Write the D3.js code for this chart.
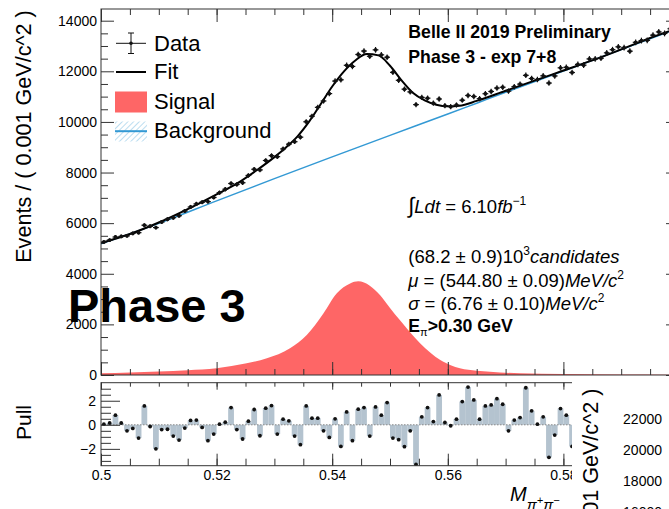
<!DOCTYPE html>
<html>
<head>
<meta charset="utf-8">
<script src="https://cdn.jsdelivr.net/npm/d3@7"></script>
<style>
  html, body { margin: 0; padding: 0; background: #fff; overflow: hidden; }
  svg { display: block; font-family: "Liberation Sans", Arial, Helvetica, sans-serif; }
</style>
</head>
<body>
<svg id="chart" width="669" height="509"></svg>
<script>
/* jshint esversion:6 */

// histogram: 100 bins of 1 MeV from 0.5 to 0.6 GeV
const histLow = 0.5;
const binWidth = 0.001;

const events = [
  5255, 5333, 5452, 5475, 5498, 5595, 5625, 5919, 5879, 5826,
  6046, 6154, 6214, 6293, 6480, 6639, 6760, 6827, 6853, 7015,
  7204, 7340, 7566, 7529, 7598, 7884, 8129, 8104, 8476, 8668,
  8628, 8934, 9121, 9219, 9399, 10006, 10225, 10576, 10828, 11119,
  11614, 11664, 12238, 12193, 12665, 12801, 12594, 12848, 12650, 12556,
  11959, 11645, 11295, 11187, 10684, 10969, 10939, 10738, 10906, 10640,
  10602, 10668, 10859, 11045, 11005, 10919, 11114, 11203, 11339, 11371,
  11217, 11392, 11494, 11840, 11715, 11675, 11822, 11536, 11817, 12138,
  12158, 11952, 12274, 12243, 12490, 12492, 12516, 12730, 12854, 12967,
  12933, 12795, 13147, 13214, 13224, 13429, 13556, 13497, 13682, 13715
];

const pulls = [
  0.05, 0.15, 0.8, 0.15, -0.5, -0.3, -1.1, 1.57, -0.14, -2.0,
  -0.4, -0.37, -0.94, -1.27, -0.27, 0.36, 0.39, -0.22, -1.32, -0.77,
  0.05, 0.22, 1.43, -0.4, -1.18, 0.3, 1.27, -0.91, 1.38, 1.6,
  -0.77, 0.47, 0.33, -0.94, -1.65, 1.57, 0.55, 0.55, -0.5, -1.05,
  0.5, -1.8, 1.07, -1.32, 1.3, 1.43, -0.94, 1.49, 0.8, 1.85,
  -1.1, -1.24, -1.82, -0.5, -3.3, 0.66, 1.43, 0.27, 2.48, 0.19,
  -0.08, 0.47, 1.93, 3.14, 2.07, 0.47, 1.57, 1.65, 2.17, 1.71,
  -0.5, 0.39, 0.6, 3.08, 1.16, 0.05, 0.66, -2.7, -0.85, 1.35,
  0.8, -1.8, 0.4, -0.6, 0.9, 0.2, -0.3, 0.8, 1.1, 1.3,
  0.2, -1.8, 0.5, 0.3, -0.4, 0.6, 1.0, -0.2, 0.7, 0.3
];

const fitMass = [0.500, 0.505, 0.510, 0.515, 0.520, 0.524, 0.527, 0.530, 0.532, 0.534,
  0.536, 0.538, 0.540, 0.542, 0.544, 0.546, 0.548, 0.550, 0.552, 0.554,
  0.556, 0.558, 0.560, 0.562, 0.565, 0.570, 0.575, 0.580, 0.585, 0.590, 0.595, 0.600];
const fitEvents = [5215, 5571, 6025, 6555, 7140, 7633, 8100, 8610, 8990, 9430,
  10010, 10700, 11400, 11990, 12430, 12680, 12630, 12220, 11640, 11140,
  10850, 10680, 10615, 10640, 10830, 11230, 11630, 12030, 12430, 12865, 13315, 13720];

const bkgMass = [0.500, 0.510, 0.520, 0.530, 0.540, 0.550, 0.560, 0.565, 0.570, 0.580, 0.590, 0.600];
const bkgEvents = [5180, 5990, 6880, 7760, 8620, 9470, 10310, 10740, 11170, 12010, 12855, 13718];

const sigMass = [0.500, 0.505, 0.510, 0.515, 0.520, 0.5252, 0.5287, 0.5327, 0.5356, 0.5385,
  0.5408, 0.5431, 0.5445, 0.5465, 0.5483, 0.5500, 0.5517, 0.5535, 0.5552, 0.5570,
  0.5587, 0.5605, 0.5621, 0.5650, 0.5673, 0.5725, 0.580, 0.590, 0.600];
const sigEvents = [65, 95, 135, 190, 265, 460, 660, 1055, 1580, 2440,
  3230, 3620, 3700, 3530, 3150, 2650, 2170, 1680, 1250, 880,
  590, 390, 263, 170, 130, 67, 35, 15, 8];

const yTicks = [0, 2000, 4000, 6000, 8000, 10000, 12000, 14000];
const xTicks = [0.50, 0.52, 0.54, 0.56, 0.58, 0.60];
const pullTicks = [-2, 0, 2];
const insetTicks = [22000, 20000, 18000, 16000];
const legendItems = ["Data", "Fit", "Signal", "Background"];

const styles = {
  font: "'Liberation Sans', Arial, Helvetica, sans-serif",
  frame: "#333",
  signal: "#fe6666",
  background: "#3399d4",
  hatch: "#8cc6e6",
  pullFill: "#b4c3cf"
};

const svg = d3.select("#chart");

const x = d3.scaleLinear().domain([0.5, 0.6]).range([101, 679]);
const y = d3.scaleLinear().domain([0, 14462]).range([375, 9]);
const py = d3.scaleLinear().domain([-3.4, 3.5]).range([465.7, 382.7]);

const binCentre = i => histLow + (i + 0.5) * binWidth;

const defs = svg.append("defs");
defs.append("clipPath").attr("id", "mainClip")
  .append("rect").attr("x", 101).attr("y", 9).attr("width", 578).attr("height", 366);
defs.append("clipPath").attr("id", "pullClip")
  .append("rect").attr("x", 101).attr("y", 382.7).attr("width", 578).attr("height", 83);
const hatch = defs.append("pattern")
  .attr("id", "hatch")
  .attr("patternUnits", "userSpaceOnUse")
  .attr("width", 4).attr("height", 4)
  .attr("patternTransform", "rotate(45)");
hatch.append("line")
  .attr("x1", 0).attr("y1", 0).attr("x2", 0).attr("y2", 4)
  .attr("stroke", styles.hatch).attr("stroke-width", 1.2);

// ---------- main panel ----------
const main = svg.append("g").attr("clip-path", "url(#mainClip)");

const sigPts = sigMass.map((m, i) => [m, sigEvents[i]]);
main.append("path")
  .datum(sigPts)
  .attr("fill", styles.signal)
  .attr("d", d3.area().curve(d3.curveMonotoneX)
    .x(d => x(d[0])).y0(y(0)).y1(d => y(d[1])));

const bkgPts = bkgMass.map((m, i) => [m, bkgEvents[i]]);
main.append("path")
  .datum(bkgPts)
  .attr("fill", "none")
  .attr("stroke", styles.background)
  .attr("stroke-width", 1.5)
  .attr("d", d3.line().curve(d3.curveMonotoneX).x(d => x(d[0])).y(d => y(d[1])));

const fitPts = fitMass.map((m, i) => [m, fitEvents[i]]);
main.append("path")
  .datum(fitPts)
  .attr("fill", "none")
  .attr("stroke", "#000")
  .attr("stroke-width", 2)
  .attr("d", d3.line().curve(d3.curveMonotoneX).x(d => x(d[0])).y(d => y(d[1])));

const points = main.selectAll("g.point")
  .data(events)
  .enter()
  .append("g")
  .attr("class", "point")
  .attr("stroke", "#111")
  .attr("stroke-width", 1.2);

points.append("line")
  .attr("x1", (d, i) => x(binCentre(i) - binWidth / 2))
  .attr("x2", (d, i) => x(binCentre(i) + binWidth / 2))
  .attr("y1", d => y(d)).attr("y2", d => y(d));
points.append("line")
  .attr("x1", (d, i) => x(binCentre(i))).attr("x2", (d, i) => x(binCentre(i)))
  .attr("y1", d => y(d - Math.sqrt(d))).attr("y2", d => y(d + Math.sqrt(d)));
points.append("circle")
  .attr("cx", (d, i) => x(binCentre(i)))
  .attr("cy", d => y(d))
  .attr("r", 1.9)
  .attr("fill", "#111")
  .attr("stroke", "none");

// frame + ticks
function tickAxis(axis, transform, values, size, withLabels, fmt) {
  const g = svg.append("g").attr("transform", transform);
  axis.tickValues(values).tickSize(size).tickSizeOuter(0);
  if (!withLabels) axis.tickFormat("");
  else if (fmt) axis.tickFormat(fmt);
  g.call(axis);
  g.select(".domain").remove();
  g.selectAll(".tick line").attr("stroke", styles.frame);
  g.selectAll(".tick text")
    .attr("fill", "#000")
    .style("font-family", styles.font)
    .style("font-size", "14px");
  return g;
}

const yMinor = d3.range(0, 14500, 500).filter(v => v % 2000 !== 0);
const xMinor = d3.range(0, 21).map(i => histLow + i * 0.005);

tickAxis(d3.axisLeft(y).tickPadding(4), "translate(101,0)", yTicks, -13, true, d3.format("d"));
tickAxis(d3.axisLeft(y), "translate(101,0)", yMinor, -7, false);
tickAxis(d3.axisRight(y), "translate(679,0)", yTicks, -13, false);
tickAxis(d3.axisRight(y), "translate(679,0)", yMinor, -7, false);
tickAxis(d3.axisBottom(x), "translate(0,375)", xTicks, -13, false);
tickAxis(d3.axisBottom(x), "translate(0,375)", xMinor, -6, false);
tickAxis(d3.axisTop(x), "translate(0,9)", xTicks, -13, false);
tickAxis(d3.axisTop(x), "translate(0,9)", xMinor, -6, false);

svg.append("rect")
  .attr("x", 101).attr("y", 9).attr("width", 578).attr("height", 366)
  .attr("fill", "none").attr("stroke", styles.frame).attr("stroke-width", 1);

// ---------- pull panel ----------
const pullG = svg.append("g").attr("clip-path", "url(#pullClip)");

pullG.selectAll("rect.pull")
  .data(pulls)
  .enter()
  .append("rect")
  .attr("class", "pull")
  .attr("x", (d, i) => x(binCentre(i) - binWidth / 2))
  .attr("width", x(histLow + binWidth) - x(histLow))
  .attr("y", d => Math.min(py(d), py(0)))
  .attr("height", d => Math.abs(py(d) - py(0)))
  .attr("fill", styles.pullFill);

pullG.append("line")
  .attr("x1", 101).attr("x2", 679)
  .attr("y1", py(0)).attr("y2", py(0))
  .attr("stroke", "#888")
  .attr("stroke-dasharray", "1.5,1.5");

pullG.selectAll("circle.pull")
  .data(pulls)
  .enter()
  .append("circle")
  .attr("class", "pull")
  .attr("cx", (d, i) => x(binCentre(i)))
  .attr("cy", d => py(d))
  .attr("r", 1.9)
  .attr("fill", "#111");

const pullMinor = d3.range(-3, 3.5, 0.5).filter(v => v % 2 !== 0);
tickAxis(d3.axisLeft(py).tickPadding(5), "translate(101,0)", pullTicks, -19, true, d => d < 0 ? "\u2212" + (-d) : d);
tickAxis(d3.axisLeft(py), "translate(101,0)", pullMinor, -10, false);
tickAxis(d3.axisBottom(x).tickPadding(4.5), "translate(0,465.7)", xTicks, -12, true, d3.format(".2~f"));
tickAxis(d3.axisBottom(x), "translate(0,465.7)", xMinor, -7, false);
tickAxis(d3.axisTop(x), "translate(0,382.7)", xTicks, -7, false);
tickAxis(d3.axisTop(x), "translate(0,382.7)", xMinor, -4, false);

svg.append("rect")
  .attr("x", 101).attr("y", 382.7).attr("width", 578).attr("height", 83)
  .attr("fill", "none").attr("stroke", styles.frame).attr("stroke-width", 1);

// ---------- axis titles ----------
svg.append("text")
  .attr("transform", "translate(31,136.5) rotate(-90)")
  .attr("text-anchor", "middle")
  .style("font-size", "21.6px")
  .text("Events / ( 0.001 GeV/c^2 )");

svg.append("text")
  .attr("transform", "translate(31,422.5) rotate(-90)")
  .attr("text-anchor", "middle")
  .style("font-size", "21px")
  .text("Pull");

const xTitle = svg.append("text")
  .attr("x", 510).attr("y", 500.7)
  .style("font-style", "italic")
  .style("font-size", "20px");
xTitle.append("tspan").text("M");
xTitle.append("tspan").attr("y", 510).style("font-size", "15px").text("\u03c0");
xTitle.append("tspan").attr("y", 504).style("font-size", "11px").text("+");
xTitle.append("tspan").attr("y", 510).style("font-size", "15px").text("\u03c0");
xTitle.append("tspan").attr("y", 504).style("font-size", "11px").text("\u2212");

// ---------- legend ----------
const legend = svg.append("g").style("font-size", "22px");
const legendY = [43.3, 72, 101.7, 131.2];
legend.selectAll("text")
  .data(legendItems)
  .enter()
  .append("text")
  .attr("x", 154)
  .attr("y", (d, i) => legendY[i] + 7.2)
  .text(d => d);

legend.append("line").attr("x1", 116).attr("x2", 146).attr("y1", legendY[0]).attr("y2", legendY[0])
  .attr("stroke", "#111");
legend.append("line").attr("x1", 131).attr("x2", 131).attr("y1", 33).attr("y2", 53.5)
  .attr("stroke", "#111");
legend.append("line").attr("x1", 128).attr("x2", 134).attr("y1", 33).attr("y2", 33).attr("stroke", "#111");
legend.append("line").attr("x1", 128).attr("x2", 134).attr("y1", 53.5).attr("y2", 53.5).attr("stroke", "#111");
legend.append("circle").attr("cx", 131).attr("cy", legendY[0]).attr("r", 1.8).attr("fill", "#111");

legend.append("line").attr("x1", 116).attr("x2", 146).attr("y1", legendY[1]).attr("y2", legendY[1])
  .attr("stroke", "#000").attr("stroke-width", 2);

legend.append("rect").attr("x", 115).attr("y", 91.5).attr("width", 32).attr("height", 21)
  .attr("fill", styles.signal);

legend.append("rect").attr("x", 115).attr("y", 121.5).attr("width", 32).attr("height", 20)
  .attr("fill", "url(#hatch)");
legend.append("line").attr("x1", 115).attr("x2", 147).attr("y1", legendY[3]).attr("y2", legendY[3])
  .attr("stroke", styles.background).attr("stroke-width", 2);

// ---------- labels ----------
svg.append("text")
  .attr("x", 408.3).attr("y", 38.3)
  .style("font-size", "17.7px").style("font-weight", "bold")
  .text("Belle II 2019 Preliminary");
svg.append("text")
  .attr("x", 408.3).attr("y", 62.7)
  .style("font-size", "17.7px").style("font-weight", "bold")
  .text("Phase 3 - exp 7+8");

function richText(x0, y0, size, parts) {
  const t = svg.append("text").attr("x", x0).attr("y", y0).style("font-size", size + "px");
  parts.forEach(p => {
    const s = t.append("tspan").attr("y", y0 + (p.shift || 0)).text(p.t);
    if (p.italic) s.style("font-style", "italic");
    if (p.bold) s.style("font-weight", "bold");
    if (p.size) s.style("font-size", p.size + "px");
  });
  return t;
}

richText(408.3, 213.3, 18.5, [
  { t: "\u222b", size: 22 },
  { t: "Ldt", italic: true },
  { t: " = 6.10" },
  { t: "fb", italic: true },
  { t: "\u22121", size: 12, shift: -8 }
]);
richText(408.3, 263.3, 18.5, [
  { t: "(68.2 \u00b1 0.9)10" },
  { t: "3", size: 12, shift: -8 },
  { t: "candidates", italic: true }
]);
richText(408.3, 286.7, 18.5, [
  { t: "\u03bc", italic: true },
  { t: " = (544.80 \u00b1 0.09)" },
  { t: "MeV/c", italic: true },
  { t: "2", size: 12, shift: -8 }
]);
richText(408.3, 310, 18.5, [
  { t: "\u03c3", italic: true },
  { t: " = (6.76 \u00b1 0.10)" },
  { t: "MeV/c", italic: true },
  { t: "2", size: 12, shift: -8 }
]);
richText(408.3, 331.7, 17.7, [
  { t: "E", bold: true },
  { t: "\u03c0", size: 11, shift: 4 },
  { t: ">0.30 GeV", bold: true }
]);

svg.append("text")
  .attr("x", 68).attr("y", 322)
  .style("font-size", "47px").style("font-weight", "bold")
  .text("Phase 3");

// ---------- overlapping second canvas (bottom right) ----------
const inset = svg.append("g");
inset.append("rect")
  .attr("x", 572).attr("y", 376).attr("width", 97).attr("height", 133)
  .attr("fill", "#fff");
inset.append("text")
  .attr("transform", "translate(598,388.5) rotate(-90)")
  .attr("text-anchor", "end")
  .style("font-size", "21.6px")
  .text("Events / ( 0.001 GeV/c^2 )");
const insetY = d3.scaleLinear().domain([16000, 22000]).range([512.5, 418.6]);
inset.selectAll("text.tick")
  .data(insetTicks)
  .enter()
  .append("text")
  .attr("class", "tick")
  .attr("x", 662)
  .attr("y", d => insetY(d))
  .attr("dy", "0.35em")
  .attr("text-anchor", "end")
  .style("font-size", "14px")
  .text(d => d);
</script>
</body>
</html>
